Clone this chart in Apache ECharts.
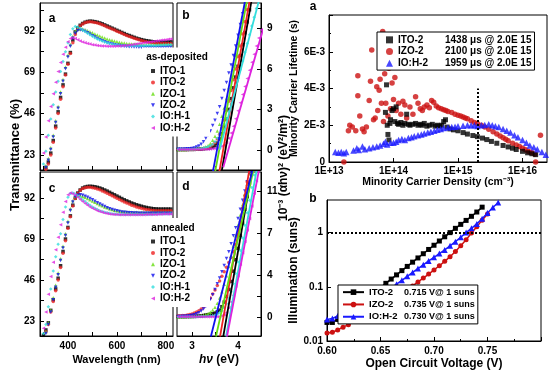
<!DOCTYPE html>
<html><head><meta charset="utf-8">
<script src="https://cdn.jsdelivr.net/npm/echarts@6/dist/echarts.min.js"></script>
<style>html,body{margin:0;padding:0;background:#fff}#c{width:550px;height:371px}</style>
</head><body><div id="c"></div>
<script>
const F = '"Liberation Sans", Arial, sans-serif';
const sampleNames = ['ITO-1','ITO-2','IZO-1','IZO-2','IO:H-1','IO:H-2'];
const sampleColors = ['#000000','#ee2222','#66dd11','#1111ee','#33dddd','#dd22dd'];
const sampleSymbols = ['rect','circle','triangle','path://M0,0L10,0L5,10Z','diamond','path://M10,0L10,10L0,5Z'];

const wavelength = [300,310,320,330,340,350,360,370,380,390,400,410,420,430,440,450,460,470,480,490,500,510,520,530,540,550,560,570,580,590,600,610,620,630,640,650,660,670,680,690,700,710,720,730,740,750,760,770,780,790,800,810,820];
// as-deposited transmittance (%)
const tA_ITO1 = [14,16,19,24,31,39,47,55,62,68, 74,80,87,91.5,93.8,95.2,96.2,96.9,97.3,97.5, 97.4,97.2,96.9,96.5,96,95.4,94.8,94.2,93.6,93, 92.4,91.8,91.2,90.6,90,89.5,89,88.5,88,87.6, 87.2,86.9,86.6,86.4,86.2,86,85.9,85.8,85.8,85.8, 85.8,85.9,86];
const tA_ITO2 = [13,15,18,23,30,38,46,54,61,67.5, 73.5,79.5,85.5,90,93,94.8,95.9,96.6,97,97.1, 97,96.8,96.4,96,95.5,94.9,94.3,93.7,93.1,92.5, 91.9,91.3,90.7,90.1,89.5,89,88.5,88,87.5,87.1, 86.7,86.3,86,85.7,85.5,85.3,85.2,85.1,85,85, 85,85,85];
const tA_IZO1 = [14,17,21,27,34,42,50,58,65,72, 78.5,84.5,89,91.8,93,93.3,93.1,92.7,92.2,91.6, 91,90.4,89.8,89.2,88.6,88.1,87.6,87.2,86.8,86.4, 86.1,85.8,85.5,85.3,85.1,84.9,84.8,84.7,84.6,84.5, 84.5,84.4,84.4,84.4,84.4,84.4,84.4,84.4,84.5,84.5, 84.5,84.5,84.5];
const tA_IZO2 = [13,16,20,26,33,41,49,57,64,71, 77.5,83.5,88,90.8,92.2,92.6,92.3,91.7,91,90.2, 89.4,88.6,87.9,87.2,86.6,86,85.5,85.1,84.7,84.4, 84.1,83.9,83.7,83.5,83.4,83.3,83.2,83.1,83.1,83, 83,83,83,83,83,83,83,83,83,83, 83.1,83.1,83.1];
const tA_IOH1 = [18,25,34,43,51,58,64,69.5,75,80.5, 85.5,90,93.3,94.5,94.2,93.5,92.6,91.7,90.8,89.9, 89.1,88.3,87.6,87,86.4,85.9,85.5,85.1,84.8,84.5, 84.3,84.1,84,83.9,83.8,83.8,83.8,83.8,83.8,83.8, 83.8,83.8,83.9,83.9,84,84,84,84.1,84.1,84.2, 84.2,84.3,84.3];
const tA_IOH2 = [24,33,42,50,57,63.5,69.5,74.5,79,83, 86,87.8,88.2,87.8,87.2,86.5,85.9,85.4,85,84.7, 84.4,84.2,84,83.8,83.7,83.6,83.5,83.5,83.5,83.5, 83.6,83.7,83.8,83.9,84,84.2,84.4,84.6,84.8,85, 85.2,85.4,85.6,85.8,86,86.2,86.4,86.6,86.8,87, 87.2,87.4,87.5];
// annealed transmittance (%)
const tC_ITO1 = [15,18,22,29,35,41,47,54,62,69, 75.5,82,88,92,94.8,96.5,97.6,98.2,98.5,98.6, 98.5,98.3,98,97.6,97.1,96.5,95.9,95.2,94.5,93.8, 93.1,92.4,91.7,91,90.4,89.8,89.2,88.7,88.2,87.8, 87.4,87,86.7,86.4,86.2,86,85.9,85.8,85.8,85.8, 85.8,85.8,85.8];
const tC_ITO2 = [14,17,21,28,34,40,46,53,61,68, 75,81.5,87.5,91.8,94.6,96.3,97.3,97.8,98,98, 97.8,97.5,97.1,96.6,96,95.4,94.7,94,93.3,92.6, 91.9,91.2,90.5,89.8,89.2,88.6,88,87.5,87,86.6, 86.2,85.9,85.6,85.4,85.2,85,84.9,84.8,84.8,84.8, 84.8,84.8,84.8];
const tC_IZO1 = [14,17,22,29,36,43,50,58,65,72, 79,86,90.5,92.8,93.5,93.4,93,92.4,91.7,91, 90.3,89.6,88.9,88.2,87.6,87,86.5,86,85.6,85.2, 84.9,84.7,84.5,84.3,84.2,84.1,84,84,84,84, 84,84,84,84,84,84,84,84,84,84, 84,84,84];
const tC_IZO2 = [13,16,21,28,35,42,49,57,64,71, 78,85,89.8,92.6,93.6,93.8,93.5,93,92.4,91.7, 91,90.2,89.4,88.6,87.9,87.2,86.6,86,85.5,85.1, 84.8,84.5,84.2,84,83.9,83.8,83.7,83.6,83.6,83.5, 83.5,83.5,83.5,83.5,83.5,83.5,83.5,83.5,83.5,83.5, 83.5,83.5,83.5];
const tC_IOH1 = [16,21,31,41,51,59,66,72,80,87, 92.5,94.5,94.8,94.2,93.3,92.2,91.1,90,88.9,87.9, 87,86.2,85.5,84.9,84.4,84,83.7,83.4,83.2,83, 82.9,82.8,82.7,82.7,82.7,82.7,82.7,82.7,82.7,82.7, 82.7,82.7,82.8,82.8,82.8,82.9,82.9,83,83,83, 83.1,83.1,83.2];
const tC_IOH2 = [19,28,38,48,56,63,70,77,84,90, 93.8,94.8,94.4,93.5,92.4,91.2,90,88.9,87.9,87, 86.2,85.5,84.9,84.4,84,83.6,83.3,83.1,82.9,82.8, 82.7,82.6,82.6,82.6,82.6,82.6,82.6,82.6,82.6,82.6, 82.6,82.6,82.7,82.7,82.7,82.8,82.8,82.9,82.9,83, 83,83.1,83.1];

const photonEnergy = [2.70,2.75,2.80,2.85,2.90,2.95,3.00,3.05,3.10,3.15,3.20,3.25,3.30,3.35,3.40,3.45,3.50,3.55,3.60,3.65,3.70,3.75,3.80,3.85,3.90,3.95,4.00,4.05,4.10,4.15,4.20,4.25,4.30,4.35,4.40,4.45,4.50];
// as-deposited Tauc data, 1e-3 (ahv)^2
const tauB_ITO1 = [0.02,0.02,0.02,0.02,0.02,0.03,0.03,0.03,0.04,0.05,0.06,0.08,0.1, 0.12,0.15,0.19,0.3,0.5,0.8,1.2,1.7,2.3,3.0,3.8,4.6,5.4,6.2,7.0,7.8,8.7,9.5,10.4,11.3];
const tauB_ITO2 = [0.02,0.02,0.02,0.02,0.03,0.03,0.03,0.04,0.05,0.06,0.07,0.09,0.12, 0.17,0.25,0.38,0.55,0.8,1.15,1.6,2.2,2.9,3.6,4.4,5.2,6.0,6.9,7.7,8.6,9.5,10.4,11.3];
const tauB_IZO1 = [0.03,0.03,0.03,0.03,0.04,0.04,0.05,0.06,0.07,0.09,0.12,0.16,0.22, 0.32,0.47,0.7,1.0,1.4,1.9,2.5,3.1,3.8,4.6,5.4,6.2,7.0,7.9,8.8,9.7,10.6,11.5];
const tauB_IZO2 = [0.05,0.05,0.05,0.06,0.07,0.08,0.1,0.14,0.2,0.28,0.42,0.6,0.85, 1.1,1.4,1.8,2.2,2.7,3.2,3.8,4.4,5.0,5.7,6.3,7.0,7.7,8.5,9.3,10.1,11.0];
const tauB_IOH1 = [0.04,0.04,0.04,0.04,0.04,0.05,0.05,0.06,0.07,0.08,0.1,0.13,0.17, 0.22,0.3,0.42,0.6,0.85,1.15,1.5,1.9,2.35,2.85,3.4,4.0,4.6,5.3,5.95,6.6,7.25,7.9,8.55,9.2,9.85,10.5,11.15];
const tauB_IOH2 = [0.02,0.02,0.02,0.02,0.02,0.02,0.02,0.02,0.03,0.03,0.03,0.04,0.04, 0.05,0.06,0.08,0.1,0.14,0.2,0.27,0.35,0.55,0.85,1.25,1.75,2.3,2.9,3.5,4.1,4.7,5.3,5.9,6.5,7.1,7.7,8.3,8.9];
const fitB_ITO1 = [[3.64,-1.7],[4.29,11]];
const fitB_ITO2 = [[3.59,-1.7],[4.25,11]];
const fitB_IZO1 = [[3.50,-1.7],[4.19,11]];
const fitB_IZO2 = [[3.45,-1.7],[4.15,11]];
const fitB_IOH1 = [[3.60,0],[4.45,11]];
const fitB_IOH2 = [[3.68,-1.3],[4.55,9.0]];
// annealed Tauc data
const tauD_ITO1 = [0.03,0.03,0.03,0.03,0.04,0.04,0.05,0.05,0.06,0.08,0.1,0.13,0.17, 0.2,0.24,0.28,0.34,0.45,0.6,0.9,1.3,1.8,2.4,3.1,4.0,5.0,6.0,7.1,8.2,9.4,10.5,11.7,12.8];
const tauD_ITO2 = [0.1,0.1,0.12,0.14,0.17,0.21,0.27,0.34,0.43,0.55,0.7,0.88,1.1, 1.35,1.65,2.0,2.35,2.75,3.15,3.55,3.95,4.35,4.75,5.2,5.7,6.3,7.2,8.3,9.5,10.6,11.8,12.9];
const tauD_IZO1 = [0.03,0.03,0.03,0.03,0.04,0.04,0.05,0.06,0.07,0.09,0.12,0.16,0.22, 0.3,0.42,0.6,0.85,1.2,1.65,2.2,2.85,3.6,4.4,5.3,6.2,7.1,8.0,8.9,9.8,10.7,11.6,12.5,13.4];
const tauD_IZO2 = [0.05,0.05,0.06,0.07,0.09,0.11,0.15,0.2,0.28,0.38,0.52,0.7,0.92, 1.2,1.55,1.95,2.4,2.9,3.4,3.95,4.5,5.1,5.7,6.4,7.1,7.8,8.6,9.4,10.2,11.0,11.8,12.6,13.4];
const tauD_IOH1 = [0.02,0.02,0.02,0.02,0.02,0.02,0.03,0.03,0.03,0.04,0.04,0.05,0.05, 0.06,0.08,0.11,0.16,0.24,0.36,0.55,0.8,1.15,1.6,2.2,2.9,3.8,4.8,5.8,6.9,8.0,9.1,10.2,11.3,12.4,13.5];
const tauD_IOH2 = [0.02,0.02,0.02,0.02,0.02,0.02,0.02,0.02,0.02,0.02,0.02,0.02,0.02, 0.02,0.02,0.02,0.02,0.03,0.05,0.1,0.2,0.4,0.8,1.3,1.9,2.7,3.6,4.6,5.6,6.6,7.6,8.6,9.7,10.8,11.9,13.0];
const fitD_ITO1 = [[3.68,-1.7],[4.31,12.9]];
const fitD_ITO2 = [[3.61,-1.7],[4.25,12.9]];
const fitD_IZO1 = [[3.52,-1.7],[4.34,12.9]];
const fitD_IZO2 = [[3.41,-1.7],[4.32,12.9]];
const fitD_IOH1 = [[3.74,-1.7],[4.41,12.9]];
const fitD_IOH2 = [[3.76,-1.7],[4.46,12.9]];

// minority carrier lifetime: [density cm^-3, lifetime ms]
const lifeLegend = ['ITO-2|1438 μs @ 2.0E 15','IZO-2|2100 μs @ 2.0E 15','IO:H-2|1959 μs @ 2.0E 15'];
const lifeITO2 = [[7.5e13,2.7],[7.8e13,4.2],[8.0e13,2.0],[8.2e13,1.5],[8.5e13,1.2],[8.8e13,2.1],[9.0e13,2.3],[9.5e13,2.8],[1.0e14,2.9],[1.05e14,2.2],[1.1e14,3.0],[1.15e14,2.1],[1.2e14,2.05],[1.3e14,2.15],[1.4e14,2.0],[1.5e14,2.1],[1.6e14,2.6],[1.7e14,2.05],[1.8e14,2.0],[2.0e14,2.05],[2.2e14,2.1],[2.4e14,2.0],[2.6e14,2.05],[2.8e14,2.0],[3.0e14,2.1],[3.3e14,1.95],[3.6e14,2.0],[4.0e14,2.05],[4.4e14,1.95],[4.8e14,2.0],[5.2e14,1.95],[5.6e14,2.0],[6.0e14,2.2],[6.4e14,2.3],[6.8e14,1.9],[7.5e14,1.8],[8.5e14,1.75],[1.0e15,1.7],[1.2e15,1.6],[1.4e15,1.52],[1.7e15,1.44],[2.0e15,1.38],[2.4e15,1.3],[2.8e15,1.22],[3.3e15,1.12],[4.0e15,1.02],[5.0e15,0.9],[6.0e15,0.82],[7.0e15,0.75],[8.0e15,0.68],[1.0e16,0.58],[1.2e16,0.5],[1.4e16,0.45],[1.6e16,0.4]];
const lifeIZO2 = [[1.7e13,0.0],[2.0e13,1.7],[2.1e13,2.0],[2.3e13,1.9],[2.6e13,1.7],[2.8e13,4.7],[2.8e13,3.6],[3.0e13,2.5],[3.3e13,1.8],[3.5e13,1.65],[3.8e13,1.9],[4.2e13,3.35],[4.4e13,4.4],[4.6e13,6.1],[4.9e13,2.3],[5.2e13,2.4],[5.5e13,4.1],[5.7e13,2.8],[6.0e13,3.9],[6.2e13,4.5],[6.5e13,3.2],[6.8e13,7.1],[7.0e13,2.2],[7.3e13,4.8],[7.6e13,3.2],[8.0e13,6.0],[8.2e13,2.5],[8.5e13,5.1],[9.0e13,2.9],[9.5e13,4.3],[1.0e14,3.4],[1.05e14,4.6],[1.1e14,2.8],[1.2e14,3.2],[1.3e14,2.6],[1.4e14,3.3],[1.5e14,3.1],[1.6e14,2.4],[1.8e14,3.0],[2.0e14,2.6],[2.2e14,3.55],[2.4e14,3.2],[2.6e14,2.9],[2.8e14,2.8],[3.0e14,3.0],[3.3e14,3.1],[3.6e14,2.95],[3.9e14,3.35],[4.2e14,3.25],[4.6e14,3.05],[5.0e14,2.95],[5.5e14,2.9],[6.0e14,2.85],[6.5e14,2.8],[7.0e14,2.75],[8.0e14,2.7],[9.0e14,2.6],[1.0e15,2.55],[1.1e15,2.5],[1.2e15,2.45],[1.3e15,2.4],[1.4e15,2.35],[1.6e15,2.25],[1.8e15,2.15],[2.0e15,2.1],[2.3e15,2.0],[2.6e15,1.9],[3.0e15,1.78],[3.5e15,1.65],[4.0e15,1.52],[4.5e15,1.42],[5.0e15,1.32],[5.5e15,1.24],[6.0e15,1.16],[7.0e15,1.02],[8.0e15,0.92],[9.0e15,0.84],[1.0e16,0.75],[1.1e16,0.68],[1.2e16,0.6],[1.3e16,0.55],[1.4e16,0.5],[1.55e16,0.42],[1.6e16,0.0],[1.9e16,1.45]];
const lifeIOH2 = [[1.25e13,0.55],[1.4e13,0.5],[1.55e13,0.55],[1.7e13,0.48],[1.85e13,0.55],[2.4e13,0.62],[2.7e13,0.75],[2.9e13,0.65],[3.3e13,0.85],[3.6e13,0.7],[4.2e13,0.75],[4.8e13,0.8],[5.5e13,0.85],[6.2e13,0.9],[7.0e13,1.0],[7.5e13,1.1],[8.0e13,0.95],[9.0e13,1.05],[1.0e14,1.05],[1.1e14,1.1],[1.2e14,1.2],[1.35e14,1.25],[1.5e14,1.2],[1.7e14,1.3],[1.9e14,1.35],[2.1e14,1.4],[2.4e14,1.45],[2.7e14,1.5],[3.0e14,1.55],[3.4e14,1.6],[3.8e14,1.65],[4.3e14,1.7],[4.8e14,1.75],[5.4e14,1.8],[6.0e14,1.85],[7.0e14,1.88],[8.0e14,1.9],[9.0e14,1.92],[1.0e15,1.95],[1.2e15,1.97],[1.4e15,2.0],[1.6e15,2.0],[1.8e15,2.0],[2.0e15,1.96],[2.3e15,2.0],[2.6e15,2.02],[3.0e15,2.05],[3.4e15,2.0],[3.8e15,1.95],[4.3e15,1.9],[5.0e15,1.8],[5.7e15,1.7],[6.5e15,1.6],[7.5e15,1.45],[8.5e15,1.35],[1.0e16,1.2],[1.15e16,1.05],[1.3e16,0.9],[1.5e16,0.8],[1.7e16,0.7],[2.0e16,0.55],[2.3e16,0.4]];

// Suns-Voc
const vocLegend = ['ITO-2|0.715 V@ 1 suns','IZO-2|0.735 V@ 1 suns','IO:H-2|0.730 V@ 1 suns'];
const vocGrid = [0.600,0.605,0.610,0.615,0.620,0.625,0.630,0.635,0.640,0.645,0.650,0.655,0.660,0.665,0.670,0.675,0.680,0.685,0.690,0.695,0.700,0.705,0.710,0.715,0.720,0.725,0.730,0.735,0.740,0.745,0.750,0.755,0.760];
const sunsITO2 = [0.022,0.022,0.025,0.030,0.035,0.041,0.049,0.058,0.069,0.082,0.097,0.116,0.139,0.166,0.199,0.238,0.285,0.341,0.408,0.489,0.585,0.70,0.838,1.0,1.2,1.42,1.68,2.0,2.4,2.95,null,null,null];
const sunsIZO2 = [0.014,0.0145,0.016,0.018,0.020,0.023,0.026,0.029,0.033,0.037,0.042,0.048,0.055,0.064,0.075,0.088,0.104,0.123,0.145,0.172,0.205,0.245,0.295,0.36,0.45,0.57,0.74,0.98,1.28,1.7,2.2,null,null];
const sunsIOH2 = [0.025,0.026,0.029,0.032,0.036,0.040,0.045,0.050,0.056,0.063,0.071,0.081,0.095,0.112,0.132,0.156,0.184,0.217,0.255,0.30,0.35,0.41,0.48,0.57,0.68,0.82,1.0,1.2,1.45,1.8,2.3,2.9,3.6];

const transA = [tA_ITO1,tA_ITO2,tA_IZO1,tA_IZO2,tA_IOH1,tA_IOH2];
const transC = [tC_ITO1,tC_ITO2,tC_IZO1,tC_IZO2,tC_IOH1,tC_IOH2];
const tauB = [tauB_ITO1,tauB_ITO2,tauB_IZO1,tauB_IZO2,tauB_IOH1,tauB_IOH2];
const tauD = [tauD_ITO1,tauD_ITO2,tauD_IZO1,tauD_IZO2,tauD_IOH1,tauD_IOH2];
const fitB = [fitB_ITO1,fitB_ITO2,fitB_IZO1,fitB_IZO2,fitB_IOH1,fitB_IOH2];
const fitD = [fitD_ITO1,fitD_ITO2,fitD_IZO1,fitD_IZO2,fitD_IOH1,fitD_IOH2];

const pairs = (xs, ys) => ys.map((y,i) => y == null ? null : [xs[i], y]).filter(Boolean);

const lbl = {color:'#000', fontSize:10, fontWeight:'bold', fontFamily:F};
const nameStyle = sz => ({color:'#000', fontSize:sz, fontWeight:'bold', fontFamily:F});
const aLine = {show:true, onZero:false, lineStyle:{color:'#000', width:1}};
function tick(custom){ const t = {show:true, inside:true, length:4, lineStyle:{color:'#000', width:1}}; if (custom) t.customValues = custom; return t; }

const wlTicks = [300,400,500,600,700,800];
const tTicks = [23,34.5,46,57.5,69,80.5,92,103.5];

const xAxis = [
  {gridIndex:0, type:'value', min:286, max:829, axisLine:aLine, axisTick:tick(wlTicks), axisLabel:{show:false}, splitLine:{show:false}},
  {gridIndex:1, type:'value', min:2.674, max:4.5, axisLine:aLine, axisTick:tick([3,3.5,4]), axisLabel:{show:false}, splitLine:{show:false}},
  {gridIndex:2, type:'value', min:286, max:829, axisLine:aLine, axisTick:tick(wlTicks),
    axisLabel:Object.assign({customValues:[400,600,800], margin:5}, lbl), splitLine:{show:false},
    name:'Wavelength (nm)', nameLocation:'middle', nameGap:18, nameTextStyle:Object.assign({padding:[0,0,0,20]}, nameStyle(11))},
  {gridIndex:3, type:'value', min:2.674, max:4.5, axisLine:aLine, axisTick:tick([3,3.5,4]),
    axisLabel:Object.assign({customValues:[3,4], margin:5}, lbl), splitLine:{show:false},
    name:'{i|hν} (eV)', nameLocation:'middle', nameGap:18,
    nameTextStyle:Object.assign({rich:{i:{fontStyle:'italic', fontSize:12, fontWeight:'bold', fontFamily:F, color:'#000'}}}, nameStyle(12))},
  {gridIndex:4, type:'log', logBase:10, min:1e13, max:2.4e16, axisLine:aLine, axisTick:tick(),
    axisLabel:Object.assign({showMaxLabel:false, margin:4, formatter:v => '1E+' + Math.round(Math.log10(v))}, lbl), splitLine:{show:false}, minorTick:{show:false},
    name:'Minority Carrier Density (cm⁻³)', nameLocation:'middle', nameGap:15, nameTextStyle:nameStyle(10.5)},
  {gridIndex:5, type:'value', min:0.6, max:0.8, interval:0.05, axisLine:aLine, axisTick:tick(),
    minorTick:{show:true, splitNumber:2, length:2, lineStyle:{color:'#000'}},
    axisLabel:Object.assign({showMaxLabel:false, margin:5, formatter:v => v.toFixed(2)}, lbl), splitLine:{show:false},
    name:'Open Circuit Voltage (V)', nameLocation:'middle', nameGap:17, nameTextStyle:nameStyle(12)}
];
const yAxis = [
  {gridIndex:0, type:'value', min:14.6, max:107.6, axisLine:aLine, axisTick:tick(tTicks), axisLabel:Object.assign({customValues:[23,46,69,92], margin:5}, lbl), splitLine:{show:false}},
  {gridIndex:1, type:'value', position:'right', min:-1.5, max:10.9, axisLine:aLine, axisTick:tick([0,1.5,3,4.5,6,7.5,9,10.5]), axisLabel:Object.assign({customValues:[0,3,6,9], margin:6}, lbl), splitLine:{show:false}},
  {gridIndex:2, type:'value', min:14.6, max:106.6, axisLine:aLine, axisTick:tick(tTicks), axisLabel:Object.assign({customValues:[23,46,69,92], margin:5}, lbl), splitLine:{show:false}},
  {gridIndex:3, type:'value', position:'right', min:-1.66, max:12.66, axisLine:aLine, axisTick:tick([0,11/6,11/3,11/2,22/3,55/6,11]), axisLabel:Object.assign({customValues:[0,11/3,22/3,11], margin:6, formatter:v => String(Math.round(v))}, lbl), splitLine:{show:false}},
  {gridIndex:4, type:'value', min:0, max:0.008, interval:0.002, axisLine:aLine, axisTick:tick(),
    minorTick:{show:true, splitNumber:2, length:2, lineStyle:{color:'#000'}},
    axisLabel:Object.assign({showMaxLabel:false, margin:4, formatter:v => v === 0 ? '0' : Math.round(v*1000) + 'E-3'}, lbl), splitLine:{show:false},
    name:'Minority Carrier Lifetime (s)', nameLocation:'middle', nameGap:19, nameTextStyle:nameStyle(10.5)},
  {gridIndex:5, type:'log', logBase:10, min:0.01, max:4, axisLine:aLine, axisTick:tick(),
    axisLabel:Object.assign({showMaxLabel:false, margin:4, formatter:v => String(+v.toPrecision(1))}, lbl), splitLine:{show:false},
    name:'Illumination (suns)', nameLocation:'middle', nameGap:16, nameTextStyle:nameStyle(12)}
];

const gb = {show:true, borderColor:'#000', borderWidth:1, backgroundColor:'rgba(0,0,0,0)'};
const grid = [
  Object.assign({left:40, top:3, width:133, height:167}, gb),
  Object.assign({left:177, top:3, width:84, height:167}, gb),
  Object.assign({left:40, top:172, width:133, height:164}, gb),
  Object.assign({left:177, top:172, width:84, height:164}, gb),
  Object.assign({left:329, top:15, width:218, height:147}, gb),
  Object.assign({left:327, top:200, width:214, height:142}, gb)
];

const series = [];
sampleNames.forEach((n,i) => series.push({type:'scatter', name:n, xAxisIndex:0, yAxisIndex:0, symbol:sampleSymbols[i], symbolSize:3.5, itemStyle:{color:sampleColors[i]}, data:pairs(wavelength, transA[i])}));
sampleNames.forEach((n,i) => series.push({type:'scatter', name:n, xAxisIndex:2, yAxisIndex:2, symbol:sampleSymbols[i], symbolSize:3.5, itemStyle:{color:sampleColors[i]}, data:pairs(wavelength, transC[i])}));
sampleNames.forEach((n,i) => series.push({type:'scatter', name:n, xAxisIndex:1, yAxisIndex:1, symbol:sampleSymbols[i], symbolSize:3.5, itemStyle:{color:sampleColors[i]}, data:pairs(photonEnergy, tauB[i])}));
sampleNames.forEach((n,i) => series.push({type:'scatter', name:n, xAxisIndex:3, yAxisIndex:3, symbol:sampleSymbols[i], symbolSize:3.5, itemStyle:{color:sampleColors[i]}, data:pairs(photonEnergy, tauD[i])}));
sampleNames.forEach((n,i) => series.push({type:'line', name:'fitB' + i, xAxisIndex:1, yAxisIndex:1, symbol:'none', z:3, lineStyle:{color:sampleColors[i], width:1.8}, data:fitB[i]}));
sampleNames.forEach((n,i) => series.push({type:'line', name:'fitD' + i, xAxisIndex:3, yAxisIndex:3, symbol:'none', z:3, lineStyle:{color:sampleColors[i], width:1.8}, data:fitD[i]}));

const lifeColors = ['#000000','#cc1111','#1a1aff'];
const lifeSymbols = ['rect','circle','triangle'];
const lifeSizes = [5,5.5,6.5];
const lifeData = [lifeITO2, lifeIZO2, lifeIOH2];
[1,0,2].forEach(i => series.push({type:'scatter', name:lifeLegend[i], xAxisIndex:4, yAxisIndex:4, symbol:lifeSymbols[i], symbolSize:lifeSizes[i],
  itemStyle:{color:lifeColors[i]}, data:lifeData[i].map(p => [p[0], p[1]*1e-3]),
  markLine: i === 2 ? {silent:true, symbol:['none','none'], label:{show:false}, lineStyle:{type:'dotted', color:'#000', width:2},
    data:[[{coord:[2e15,0]},{coord:[2e15,0.004]}]]} : undefined}));

const sunsData = [sunsITO2, sunsIZO2, sunsIOH2];
const sunsSizes = [5,5,6];
[0,1,2].forEach(i => series.push({type:'line', name:vocLegend[i], xAxisIndex:5, yAxisIndex:5, symbol:lifeSymbols[i], symbolSize:sunsSizes[i],
  itemStyle:{color:lifeColors[i]}, lineStyle:{color:lifeColors[i], width:1.5}, data:pairs(vocGrid, sunsData[i]),
  markLine: i === 0 ? {silent:true, symbol:['none','none'], label:{show:false}, lineStyle:{type:'dotted', color:'#000', width:2},
    data:[{yAxis:1}]} : undefined}));

const legTxt = {color:'#000', fontSize:10, fontWeight:'bold', fontFamily:F, lineHeight:11};
const splitFmt = name => { const p = name.split('|'); return '{n|' + p[0] + '}{v|' + p[1] + '}'; };
const legend = [
  {data:sampleNames, orient:'vertical', left:142, top:47.5, padding:[18,20,3,9], itemWidth:4, itemHeight:4, itemGap:0.4, textStyle:legTxt, backgroundColor:'#fff', z:60, selectedMode:false},
  {data:sampleNames, orient:'vertical', left:142, top:218, padding:[18,20,3,9], itemWidth:4, itemHeight:4, itemGap:0.4, textStyle:legTxt, backgroundColor:'#fff', z:60, selectedMode:false},
  {data:lifeLegend, orient:'vertical', left:377, top:32, padding:[2,3,1,9], itemWidth:7, itemHeight:7, itemGap:0, backgroundColor:'#fff', borderColor:'#000', borderWidth:1, z:60, selectedMode:false,
    formatter:splitFmt, textStyle:{color:'#000', fontSize:10, fontWeight:'bold', fontFamily:F, lineHeight:11.7,
      rich:{n:{width:47, fontSize:10, fontWeight:'bold', fontFamily:F, color:'#000'}, v:{fontSize:10, fontWeight:'bold', fontFamily:F, color:'#000'}}}},
  {data:vocLegend, orient:'vertical', left:338, top:285, padding:[1,3,1,4], itemWidth:21, itemHeight:7, itemGap:0, backgroundColor:'#fff', borderColor:'#000', borderWidth:1, z:60, selectedMode:false,
    formatter:splitFmt, textStyle:{color:'#000', fontSize:9.5, fontWeight:'bold', fontFamily:F, lineHeight:12.3,
      rich:{n:{width:35, fontSize:9.5, fontWeight:'bold', fontFamily:F, color:'#000'}, v:{fontSize:9, fontWeight:'bold', fontFamily:F, color:'#000'}}}}
];

const txt = (x, y, text, size, extra) => Object.assign({type:'text', x:x, y:y, z:100, style:{text:text, fill:'#000', font:'bold ' + size + 'px ' + F, align:'center', verticalAlign:'middle'}}, extra || {});
const graphic = [
  txt(15, 155, 'Transmittance (%)', 13, {rotation:Math.PI/2}),
  txt(284, 168, '10⁻³ (αhν)² (eV²/m²)', 12, {rotation:Math.PI/2}),
  txt(52, 19, 'a', 12), txt(186, 16, 'b', 12), txt(52, 189, 'c', 12), txt(186, 187, 'd', 12),
  txt(313, 7, 'a', 12), txt(313, 199, 'b', 12), txt(292, 375, 'c', 12),
  txt(177, 57, 'as-deposited', 10), txt(173, 228, 'annealed', 10)
];

const chart = echarts.init(document.getElementById('c'), null, {renderer:'canvas'});
chart.setOption({animation:false, backgroundColor:'#fff', grid:grid, xAxis:xAxis, yAxis:yAxis, legend:legend, series:series, graphic:graphic});
</script></body></html>
